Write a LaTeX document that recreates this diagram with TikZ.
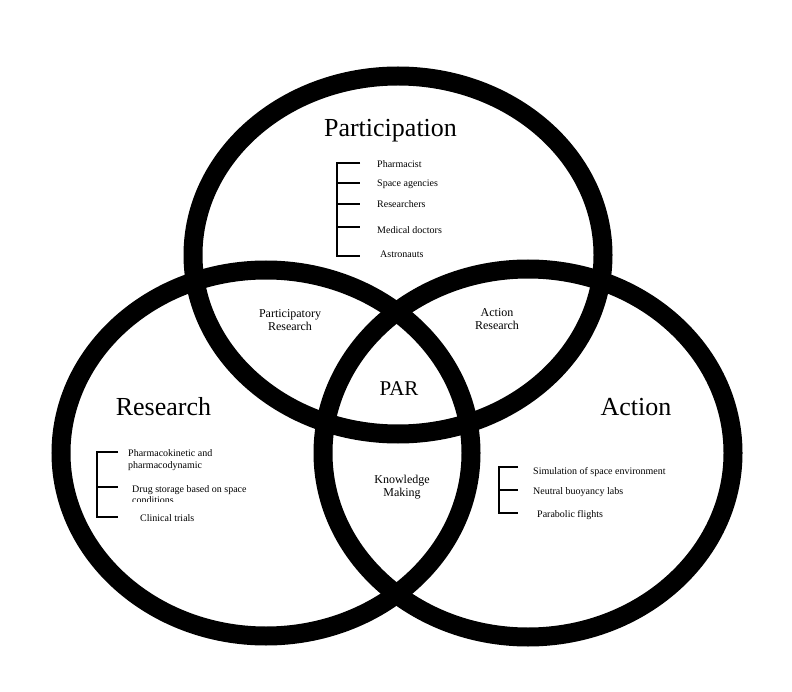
\documentclass[tikz,border=0pt]{standalone}
\usepackage{fontspec}
\setmainfont{Liberation Serif}
\begin{document}
\begin{tikzpicture}[x=1pt,y=-1pt,
  ring/.style={line width=19pt},
  big/.style={font=\fontsize{26}{28}\selectfont, inner sep=0pt, anchor=base},
  mid/.style={font=\fontsize{21}{24}\selectfont, inner sep=0pt, anchor=base},
  small/.style={font=\fontsize{12}{13.5}\selectfont, align=center, inner sep=0pt},
  tiny/.style={font=\fontsize{10}{11.5}\selectfont, anchor=west, inner sep=0pt, align=left},
  bracket/.style={line width=1.8pt}]
\useasboundingbox (0,0) rectangle (792,692);
\fill[white] (0,0) rectangle (792,692);

% circles
\draw[ring] (398,255) ellipse [x radius=205pt, y radius=179pt];
\draw[ring] (266,453) ellipse [x radius=205pt, y radius=183pt];
\draw[ring] (528,453) ellipse [x radius=205pt, y radius=184pt];

% main labels
\node[big] (participation) at (390.5,137) {Participation};
\node[big] (research) at (163.5,415) {Research};
\node[big] (action) at (636,415) {Action};
\node[mid] (par) at (399,395) {PAR};

\node[small] (pr) at (290,320) {Participatory\\Research};
\node[small] (ar) at (497,319) {Action\\Research};
\node[small] (km) at (402,487) {Knowledge\\Making};

% participation list
\draw[bracket] (360,163) -- (337,163) -- (337,256) -- (360,256);
\draw[bracket] (337,183) -- (360,183);
\draw[bracket] (337,204) -- (360,204);
\draw[bracket] (337,227) -- (360,227);
\node[tiny] (p1) at (377,164) {Pharmacist};
\node[tiny] (p2) at (377,184) {Space agencies};
\node[tiny] (p3) at (377,204) {Researchers};
\node[tiny] (p4) at (377,230) {Medical doctors};
\node[tiny] (p5) at (380,254) {Astronauts};

% research list
\draw[bracket] (118,452) -- (97,452) -- (97,517) -- (118,517);
\draw[bracket] (97,487) -- (118,487);
\node[tiny] (r1) at (128,460) {Pharmacokinetic and\\pharmacodynamic};
\begin{scope}
\clip (120,480) rectangle (300,501.5);
\node[tiny] (r2) at (132,494.5) {Drug storage based on space\\conditions};
\end{scope}
\node[tiny] (r3) at (140,518) {Clinical trials};

% action list
\draw[bracket] (518,467) -- (499,467) -- (499,513) -- (518,513);
\draw[bracket] (499,490) -- (518,490);
\node[tiny] (a1) at (533,472) {Simulation of space environment};
\node[tiny] (a2) at (533,492) {Neutral buoyancy labs};
\node[tiny] (a3) at (537,515) {Parabolic flights};
\end{tikzpicture}
\end{document}
